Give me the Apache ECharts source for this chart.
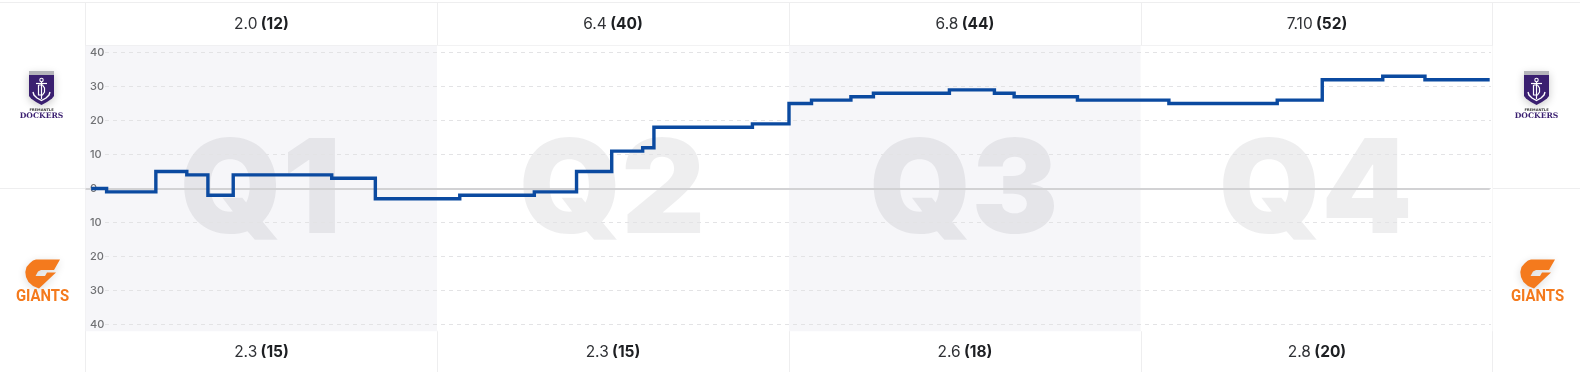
<!DOCTYPE html>
<html><head><meta charset="utf-8">
<style>html,body{margin:0;padding:0;background:#fff}#c{width:1580px;height:372px}</style>
<script src="https://cdn.jsdelivr.net/npm/echarts@6/dist/echarts.min.js"></script>
</head><body><div id="c"></div>
<script>
// Game progress (0-100 % of match time) at which each margin begins
const progress = [0.4,1.5,5.0,7.2,8.7,10.5,17.5,20.6,26.6,31.9,34.9,37.4,39.6,40.4,47.4,50.0,51.6,54.4,56.0,61.4,64.6,66.0,70.5,77.0,84.7,87.9,92.2,95.2,99.8];
const margin   = [0,-1,5,4,-2,4,3,-3,-2,-1,5,11,12,18,19,25,26,27,28,29,28,27,26,25,26,32,33,32,32];
const quarters = ['Q1','Q2','Q3','Q4'];
const quarterStarts = [0,25,50,75];
const quarterEnds = [25,50,75,100];
const shadedQuarters = [true,false,true,false];
const homeGoalsBehinds = ['2.0','6.4','6.8','7.10'];
const homeScores = [12,40,44,52];
const awayGoalsBehinds = ['2.3','2.3','2.6','2.8'];
const awayScores = [15,15,18,20];

const FONT = 'Inter, "Noto Sans", sans-serif';
const BORDER = '#eeeeef';
const L = 85.5, R = 1492.5;
const colCenters = [261.5, 613, 965, 1317];
const colEdges = [437.5, 789.5, 1141.5];

function hline(x1,x2,y,c){return {type:'line',silent:true,z:0,shape:{x1,y1:y,x2,y2:y},style:{stroke:c||BORDER,lineWidth:1}};}
function vline(x,y1,y2,c){return {type:'line',silent:true,z:0,shape:{x1:x,y1,x2:x,y2},style:{stroke:c||BORDER,lineWidth:1}};}
function stroke(points,w){return {type:'polyline',shape:{points},style:{fill:null,stroke:'#fff',lineWidth:w||1.2}};}

function scoreText(x,y,gb,s){
  return {type:'text',silent:true,z:5,style:{x,y,align:'center',verticalAlign:'middle',
    text:'{n|'+gb+'} {b|('+s+')}',
    rich:{n:{font:'400 15.5px '+FONT,fill:'#303236'},b:{font:'700 15.5px '+FONT,fill:'#1d1f22'}}}};
}
function dockers(dx){
  const purple='#3a1f70';
  return {type:'group',x:dx,y:0,silent:true,z:5,children:[
    {type:'polygon',shape:{points:[[29,72],[54,72],[54,96],[52,98.5],[47,102],[41.5,105],[36,102],[31,98.5],[29,96]]},style:{fill:purple,shadowBlur:9,shadowColor:'rgba(0,0,0,0.22)',shadowOffsetY:2}},
    {type:'polygon',shape:{points:[[29,71],[54,71],[54,75],[29,75]]},style:{fill:'#b4b4ba'}},
    {type:'circle',shape:{cx:41.5,cy:80,r:1.7},style:{fill:'none',stroke:'#fff',lineWidth:1.1}},
    stroke([[41.5,82],[41.5,99]]),
    stroke([[36,83.5],[47,83.5]]),
    stroke([[38.5,85],[38.5,95],[42.5,95],[44.5,92],[44.5,88],[42.5,85],[38.5,85]]),
    stroke([[33,92],[34,95],[37,98],[41.5,100.5],[46,98],[49,95],[50,92]],1.4),
    {type:'text',style:{x:41.5,y:110.5,align:'center',verticalAlign:'middle',text:'FREMANTLE',font:'700 3.6px "DejaVu Sans"',fill:'#333'}},
    {type:'text',style:{x:41.5,y:116.5,align:'center',verticalAlign:'middle',text:'DOCKERS',font:'700 7.6px "DejaVu Serif"',fill:purple}}
  ]};
}
function giants(dx){
  const o='#f47a1d';
  return {type:'group',x:dx,y:0,silent:true,z:5,children:[
    {type:'polygon',shape:{points:[[36,259.5],[60,259.5],[54,270],[41,270],[38,271.5],[35.5,276],[45,276],[47,272.5],[56,272.5],[39,288.5],[33,286],[28.5,282],[26,277],[25.3,272],[26.5,267],[30,263],[33,260.5]]},style:{fill:o,shadowBlur:9,shadowColor:'rgba(0,0,0,0.14)',shadowOffsetY:2}},
    {type:'text',x:42.5,y:297,scaleX:0.93,style:{x:0,y:0,align:'center',verticalAlign:'middle',text:'GIANTS',font:'700 16px Roboto',fill:o}}
  ]};
}

const graphics = [
  hline(0,1580,2.5), hline(L,R,45.5), hline(L,R,330.5),
  hline(0,L,188.5), hline(R,1580,188.5),
  vline(L,2.5,372), vline(R,2.5,372)
];
colEdges.forEach(x=>{graphics.push(vline(x,2.5,45.5)); graphics.push(vline(x,330.5,372));});
quarters.forEach((q,i)=>{
  graphics.push(scoreText(colCenters[i],24,homeGoalsBehinds[i],homeScores[i]));
  graphics.push(scoreText(colCenters[i],352,awayGoalsBehinds[i],awayScores[i]));
});
graphics.push(dockers(0),dockers(1495),giants(0),giants(1495));

const bandData = quarters.map((q,i)=>[
  {name:q,xAxis:quarterStarts[i],yAxis:-42,itemStyle:{color:shadedQuarters[i]?'#f6f6f9':'#ffffff'}},
  {xAxis:quarterEnds[i],yAxis:42}
]);

const chart = echarts.init(document.getElementById('c'),null,{renderer:'canvas'});
chart.setOption({
  animation:false,
  backgroundColor:'#fff',
  graphic:{elements:graphics},
  grid:[
    {left:85.5,top:45.7,width:1407,height:285.6},
    {left:105,top:52.5,width:1386,height:272}
  ],
  xAxis:[
    {gridIndex:0,type:'value',min:0,max:100,show:false},
    {gridIndex:1,type:'value',min:0,max:100,show:false}
  ],
  yAxis:[
    {gridIndex:0,type:'value',min:-42,max:42,show:false},
    {gridIndex:1,type:'value',min:-40,max:40,interval:10,z:2,
      axisLine:{show:false},axisTick:{show:false},
      splitLine:{show:true,lineStyle:{color:'#e3e3e5',type:[4,4],width:1}},
      axisLabel:{show:true,align:'left',margin:15,color:'#707174',fontSize:11,fontWeight:500,fontFamily:FONT,
        formatter:v=>String(Math.abs(v))}}
  ],
  series:[
    {type:'line',xAxisIndex:0,yAxisIndex:0,z:0,data:[],silent:true,
      markArea:{silent:true,z:0,data:bandData,
        label:{show:true,position:'inside',align:'center',verticalAlign:'middle',offset:[-1,5],
          fontFamily:FONT,fontWeight:900,fontSize:130,color:'rgba(30,30,40,0.075)'}}},
    {type:'line',xAxisIndex:0,yAxisIndex:0,z:3,data:[],silent:true,
      markLine:{silent:true,z:3,symbol:'none',animation:false,label:{show:false},
        lineStyle:{color:'#d2d2d4',type:'solid',width:2},
        data:[[{coord:[0,0]},{coord:[99.8,0]}]]}},
    {type:'line',xAxisIndex:0,yAxisIndex:0,z:6,step:'end',symbol:'none',silent:true,
      lineStyle:{color:'#0b4aa0',width:3.4,join:'miter'},
      data:progress.map((p,i)=>[p,margin[i]])}
  ]
});
</script></body></html>
